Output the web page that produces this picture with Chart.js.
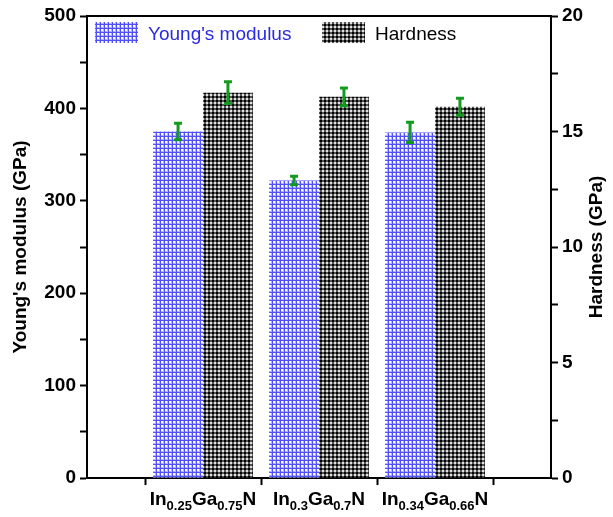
<!DOCTYPE html>
<html>
<head>
<meta charset="utf-8">
<script src="https://cdn.jsdelivr.net/npm/chart.js@4.4.1/dist/chart.umd.min.js"></script>
<style>
html, body { margin: 0; padding: 0; background: #fff; }
#wrap { width: 613px; height: 517px; }
</style>
</head>
<body>
<div id="wrap"><canvas id="myChart"></canvas></div>
<script>
'use strict'

// compositions In(x)Ga(1-x)N
var inFrac = ['0.25', '0.3', '0.34'];
var gaFrac = ['0.75', '0.7', '0.66'];

var modulus = [375, 322, 374];
var modulusErr = [9, 4.5, 11];
var hardness = [16.68, 16.5, 16.07];
var hardnessErr = [0.47, 0.38, 0.37];

var modulusTicks = [0, 100, 200, 300, 400, 500];
var hardnessTicks = [0, 5, 10, 15, 20];

var FONT = 'Arial, "Liberation Sans", sans-serif';
Chart.defaults.font.family = FONT;
Chart.defaults.color = '#000';

var ctx = document.getElementById("myChart").getContext("2d");

function makePattern(size, draw) {
	var c = document.createElement('canvas');
	c.width = size; c.height = size;
	draw(c.getContext('2d'));
	return ctx.createPattern(c, 'repeat');
}

// blue lattice with white holes
var bluePattern = makePattern(4, function(g) {
	g.fillStyle = '#fff';
	g.fillRect(0, 0, 4, 4);
	g.fillStyle = '#b4b4ff';
	g.fillRect(3, 0, 1, 4); g.fillRect(0, 3, 4, 1);
	g.fillStyle = '#5050ff';
	g.fillRect(0, 0, 1, 4); g.fillRect(0, 0, 4, 1);
});

// black / grey / white checker
var blackPattern = makePattern(4, function(g) {
	g.fillStyle = '#000';
	g.fillRect(0, 0, 2, 2);
	g.fillStyle = '#555';
	g.fillRect(2, 0, 2, 2); g.fillRect(0, 2, 2, 2);
	g.fillStyle = '#e0e0e0';
	g.fillRect(2, 2, 2, 2);
});

// empty slots at both ends so the groups sit at 1/4, 2/4, 3/4 of the width
var labels = [''].concat(inFrac.map(function(v, i) { return 'In' + v + 'Ga' + gaFrac[i] + 'N'; }), ['']);
function pad(arr) { return [null].concat(arr, [null]); }

var errorBars = {
	id: 'errorBars',
	afterDatasetsDraw: function(chart) {
		var c = chart.ctx;
		chart.data.datasets.forEach(function(ds, i) {
			var meta = chart.getDatasetMeta(i);
			var scale = chart.scales[ds.yAxisID];
			meta.data.forEach(function(el, j) {
				var v = ds.data[j];
				if (v == null) return;
				var e = ds.errors[j];
				var top = scale.getPixelForValue(v + e);
				var bot = scale.getPixelForValue(v - e);
				c.save();
				c.strokeStyle = '#139a1f';
				c.lineWidth = 3;
				c.beginPath();
				c.moveTo(el.x, top); c.lineTo(el.x, bot);
				c.moveTo(el.x - 4, top); c.lineTo(el.x + 4, top);
				c.moveTo(el.x - 4, bot); c.lineTo(el.x + 4, bot);
				c.stroke();
				c.restore();
			});
		});
	}
};

var decorations = {
	id: 'decorations',
	afterDraw: function(chart) {
		var c = chart.ctx;
		var a = chart.chartArea;
		c.save();
		// top frame line
		c.strokeStyle = '#000';
		c.lineWidth = 2;
		c.beginPath();
		c.moveTo(a.left, a.top); c.lineTo(a.right, a.top);
		c.stroke();

		// legend inside the plot
		var items = [
			{ x: a.left + 8, color: '#2a2ae0', ds: chart.data.datasets[0] },
			{ x: a.left + 235, color: '#000', ds: chart.data.datasets[1] }
		];
		items.forEach(function(it) {
			c.fillStyle = it.ds.backgroundColor;
			c.fillRect(it.x, a.top + 6, 43, 21);
			c.fillStyle = it.color;
			c.font = '19px ' + FONT;
			c.textBaseline = 'alphabetic';
			c.textAlign = 'left';
			c.fillText(it.ds.label, it.x + 53, a.top + 24);
		});

		// right axis title, reading bottom to top
		c.save();
		c.translate(597, (a.top + a.bottom) / 2);
		c.rotate(-Math.PI / 2);
		c.font = 'bold 19px ' + FONT;
		c.fillStyle = '#000';
		c.textAlign = 'center';
		c.textBaseline = 'middle';
		c.fillText('Hardness (GPa)', 0, 0);
		c.restore();

		// category labels with subscripts
		var xs = chart.scales.x;
		inFrac.forEach(function(v, i) {
			var parts = [['In', 0], [v, 1], ['Ga', 0], [gaFrac[i], 1], ['N', 0]];
			var w = 0;
			parts.forEach(function(p) {
				c.font = 'bold ' + (p[1] ? 13 : 19) + 'px ' + FONT;
				w += c.measureText(p[0]).width;
			});
			var x = xs.getPixelForValue(i + 1) - w / 2;
			var y = a.bottom + 27;
			c.fillStyle = '#000';
			c.textAlign = 'left';
			parts.forEach(function(p) {
				c.font = 'bold ' + (p[1] ? 13 : 19) + 'px ' + FONT;
				c.fillText(p[0], x, y + (p[1] ? 5 : 0));
				x += c.measureText(p[0]).width;
			});
		});
		c.restore();
	}
};

var myChart = new Chart(ctx, {
	type: 'bar',
	data: {
		labels: labels,
		datasets: [{
			label: "Young's modulus",
			data: pad(modulus),
			errors: pad(modulusErr),
			yAxisID: 'y',
			backgroundColor: bluePattern,
			borderWidth: 0
		},
		{
			label: 'Hardness',
			data: pad(hardness),
			errors: pad(hardnessErr),
			yAxisID: 'y2',
			backgroundColor: blackPattern,
			borderWidth: 0
		}]
	},
	options: {
		responsive: true,
		maintainAspectRatio: false,
		animation: false,
		layout: { padding: { top: 16, left: 0, right: 0, bottom: 0 } },
		datasets: { bar: { categoryPercentage: 0.86, barPercentage: 1 } },
		plugins: { legend: { display: false }, tooltip: { enabled: false } },
		scales: {
			x: {
				offset: false,
				grid: { drawOnChartArea: false, tickLength: 7, tickColor: '#000', tickWidth: 2 },
				border: { color: '#000', width: 2 },
				ticks: { autoSkip: false, maxRotation: 0, callback: function() { return ''; } },
				afterFit: function(s) { s.height = 39; }
			},
			y: {
				position: 'left',
				min: 0, max: 500,
				grid: { drawOnChartArea: false, tickLength: 7, tickColor: '#000', tickWidth: 2 },
				border: { color: '#000', width: 2 },
				ticks: {
					stepSize: 50, padding: 4,
					font: { size: 19, weight: 'bold' },
					callback: function(v) { return modulusTicks.indexOf(v) >= 0 ? v : ''; }
				},
				title: { display: true, text: "Young's modulus (GPa)", font: { size: 19, weight: 'bold' }, padding: { top: 9, bottom: 0 } },
				afterFit: function(s) { s.width = 87; }
			},
			y2: {
				position: 'right',
				min: 0, max: 20,
				grid: { drawOnChartArea: false, tickLength: 7, tickColor: '#000', tickWidth: 2 },
				border: { color: '#000', width: 2 },
				ticks: {
					stepSize: 2.5, padding: 4,
					font: { size: 19, weight: 'bold' },
					callback: function(v) { return hardnessTicks.indexOf(v) >= 0 ? v : ''; }
				},
				afterFit: function(s) { s.width = 62; }
			}
		}
	},
	plugins: [errorBars, decorations]
});
</script>
</body>
</html>
